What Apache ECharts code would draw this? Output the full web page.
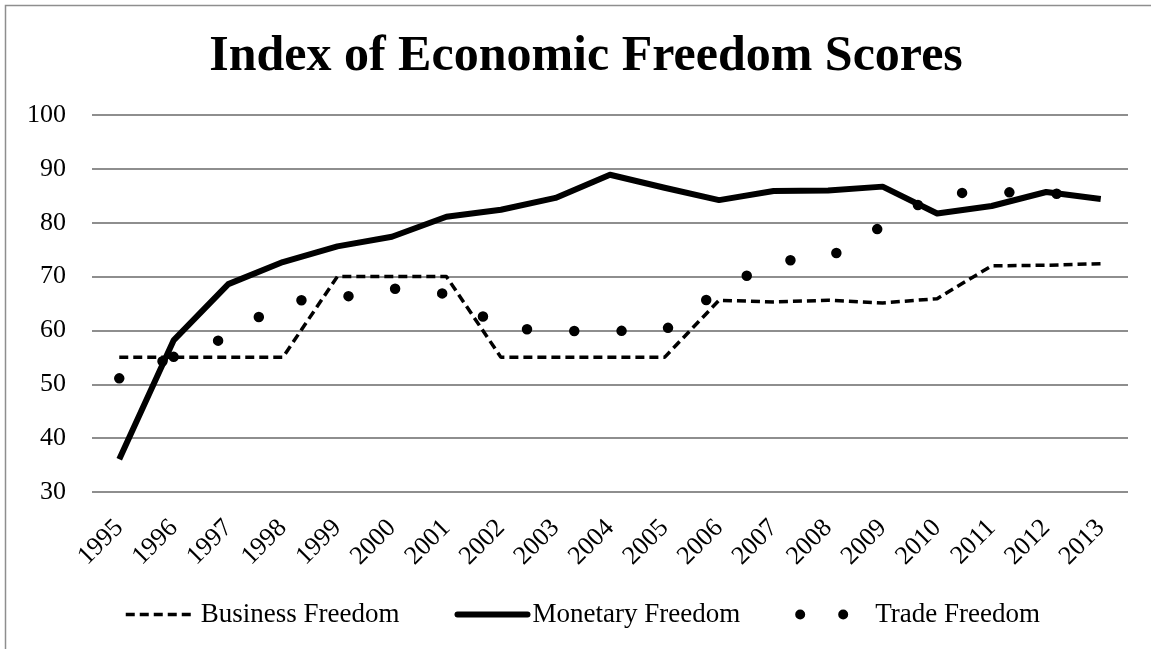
<!DOCTYPE html>
<html>
<head>
<meta charset="utf-8">
<title>Index of Economic Freedom Scores</title>
<script src="https://cdn.jsdelivr.net/npm/echarts@6/dist/echarts.min.js"></script>
<style>
  html, body { margin: 0; padding: 0; background: #fff; }
  #chart { width: 1151px; height: 649px; }
</style>
</head>
<body>
<div id="chart"></div>
<script>
// years on the category axis
const years = ['1995', '1996', '1997', '1998', '1999', '2000', '2001', '2002', '2003', '2004',
  '2005', '2006', '2007', '2008', '2009', '2010', '2011', '2012', '2013']

// scores
const businessFreedom = [55, 55, 55, 55, 70, 70, 70, 55, 55, 55,
  55, 65.6, 65.3, 65.6, 65.1, 65.9, 72.0, 72.1, 72.4]
const monetaryFreedom = [36.1, 58.2, 68.6, 72.7, 75.6, 77.4, 81.1, 82.4, 84.6, 88.9,
  86.5, 84.2, 85.9, 86.0, 86.7, 81.7, 83.1, 85.7, 84.4]
const tradeFreedom = [51.1, 55.1, 58.8, 65.4, 66.0, 67.8, 66.8, 60.5, 59.9, 59.9,
  60.0, 67.4, 72.8, 73.5, 79.4, 85.4, 85.7, 85.5, 84.8]

const seriesNames = ['Business Freedom', 'Monetary Freedom', 'Trade Freedom']

const serif = '"Liberation Serif", "DejaVu Serif", serif'

// "round dot" line: zero-length dashes with round caps.
// the source chart puts one extra dot near the first vertex, then a steady step
let roundDot = [0, 46.5, 0, 12]
for (let i = 0; i < 30; i++) roundDot.push(0, 47.3)

const hidden = 'rgba(0,0,0,0)'

const chart = echarts.init(document.getElementById('chart'))

const option = {
  animation: false,
  backgroundColor: '#fff',
  title: {
    text: 'Index of Economic Freedom Scores',
    left: 581,
    textAlign: 'center',
    top: 27,
    textStyle: {
      fontFamily: serif,
      fontWeight: 'bold',
      fontSize: 50,
      color: '#000'
    }
  },
  // outer frame of the chart box (only left and top edges are in view)
  graphic: [{
    type: 'rect',
    silent: true,
    shape: { x: 5.5, y: 5.5, width: 1400, height: 900 },
    style: { fill: 'none', stroke: '#8e8e8e', lineWidth: 1.5 }
  }],
  legend: {
    left: 119,
    top: 596,
    itemWidth: 70,
    itemHeight: 14,
    itemGap: 55,
    itemStyle: { color: hidden, borderColor: hidden, borderWidth: 0 },
    textStyle: {
      fontFamily: serif,
      fontSize: 27,
      color: '#000'
    },
    data: [
      { name: seriesNames[0], lineStyle: { color: '#000', width: 3.5, type: [9, 5] } },
      { name: seriesNames[1], lineStyle: { color: '#000', width: 6, cap: 'round' } },
      { name: seriesNames[2], lineStyle: { color: '#000', width: 10, type: [0, 43], cap: 'round' } }
    ]
  },
  grid: {
    left: 92,
    right: 23,
    top: 115,
    bottom: 157
  },
  xAxis: {
    type: 'category',
    data: years,
    boundaryGap: true,
    axisLine: { show: false },
    axisTick: { show: false },
    axisLabel: {
      rotate: 45,
      margin: 32,
      fontFamily: serif,
      fontSize: 26,
      color: '#000'
    }
  },
  yAxis: {
    type: 'value',
    min: 30,
    max: 100,
    interval: 10,
    axisLine: { show: false },
    axisTick: { show: false },
    axisLabel: {
      margin: 26,
      fontFamily: serif,
      fontSize: 26,
      color: '#000'
    },
    splitLine: {
      lineStyle: { color: '#8e8e8e', width: 2 }
    }
  },
  series: [
    {
      name: seriesNames[0],
      type: 'line',
      data: businessFreedom,
      symbol: 'none',
      lineStyle: { color: '#000', width: 3.5, type: [9, 5] },
      itemStyle: { color: '#000' }
    },
    {
      name: seriesNames[1],
      type: 'line',
      data: monetaryFreedom,
      symbol: 'none',
      lineStyle: { color: '#000', width: 6, join: 'round' },
      itemStyle: { color: '#000' }
    },
    {
      name: seriesNames[2],
      type: 'line',
      data: tradeFreedom,
      symbol: 'none',
      lineStyle: { color: '#000', width: 10.5, type: roundDot, cap: 'round' },
      itemStyle: { color: '#000' }
    }
  ]
}

chart.setOption(option)
</script>
</body>
</html>
